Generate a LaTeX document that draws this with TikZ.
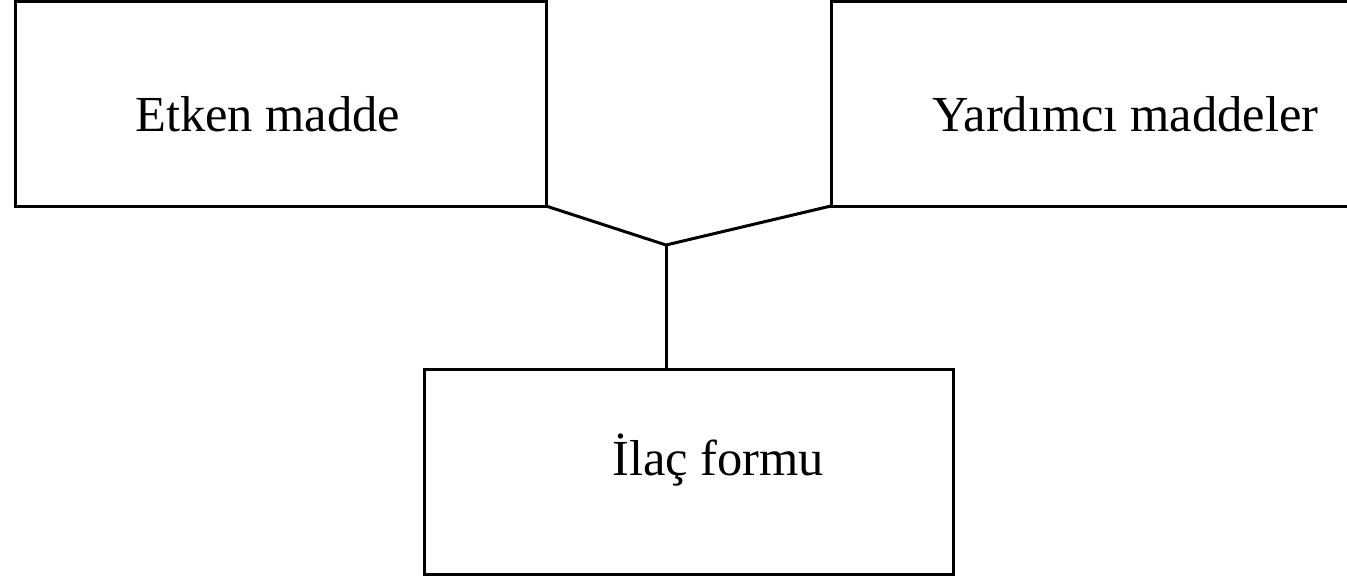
\documentclass[tikz,border=0pt]{standalone}
\usepackage{fontspec}
\setmainfont{Liberation Serif}
\begin{document}
\begin{tikzpicture}[x=1pt,y=-1pt,
  box/.style={draw,line width=3pt,outer sep=0pt,inner sep=0pt,anchor=center},
  lbl/.style={anchor=base west,inner sep=0pt,font=\fontsize{50.5}{60}\selectfont},
  conn/.style={line width=3pt,line join=miter}]
\useasboundingbox (0,0) rectangle (1347,576);
\clip (0,0) rectangle (1347,576);
\node[box,minimum width=531pt,minimum height=204.5pt] (etken) at (280.5,103.75) {};
\node[box,minimum width=531pt,minimum height=204.5pt] (yard) at (1096.5,103.75) {};
\node[box,minimum width=529pt,minimum height=205pt] (ilac) at (688.5,471.5) {};
\node[lbl] (t1) at (135,131) {Etken madde};
\node[lbl] (t2) at (932,131) {Yardımcı maddeler};
\node[lbl] (t3) at (612,475) {İlaç formu};
\coordinate (j) at (666,245);
\draw[conn] (etken.south east) -- (j) -- (yard.south west);
\draw[conn] (j) -- (j |- ilac.north);
\end{tikzpicture}
\end{document}
